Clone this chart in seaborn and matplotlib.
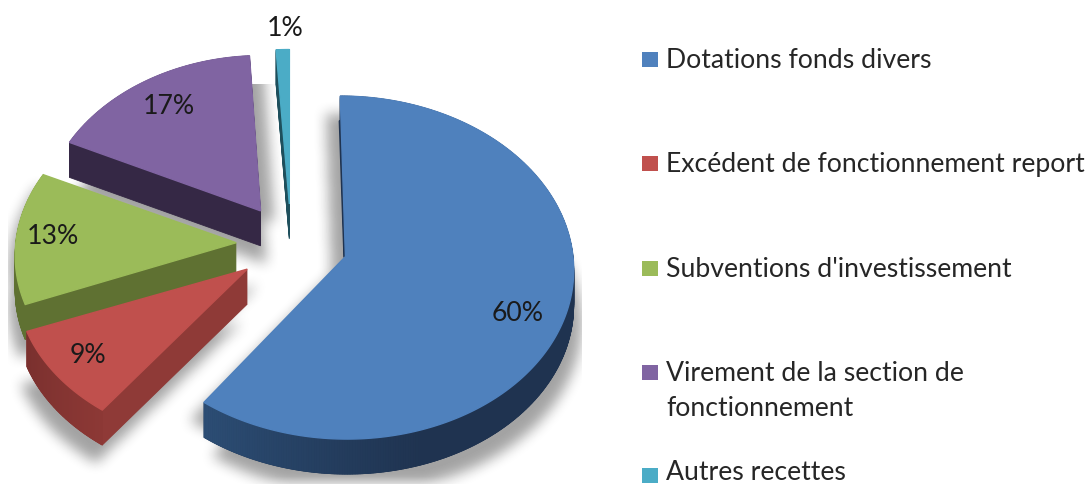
import numpy as np
import matplotlib
matplotlib.use("Agg")
import matplotlib.pyplot as plt
import seaborn as sns
from matplotlib.patches import Polygon, Rectangle
from matplotlib.path import Path
from matplotlib.colors import to_rgb

# ---- data ----
categories = ["Dotations fonds divers", "Excédent de fonctionnement report",
              "Subventions d'investissement", "Virement de la section de\nfonctionnement",
              "Autres recettes"]
values = [60, 9, 13, 17, 1]

# ---- style ----
top_colors = ["#4F81BD", "#C0504D", "#9BBB59", "#8064A2", "#4BACC6"]
side_colors = ["#1F3350", "#8F3A37", "#5F7132", "#352845", "#1E4F5C"]
arc_light_colors = ["#2C4D74", "#8C3835", "#5F7132", "#352845", "#1E4F5C"]
arc_dark_colors = ["#1F3350", "#7A302E", "#5F7132", "#352845", "#1E4F5C"]
rim_scale_x = [1.0, 1.0, 0.965, 0.965, 1.0]
rim_scale_y = [1.0, 0.96, 0.97, 1.0, 1.0]
apex_shift_x = [2, 0, 0, 0, 0]
shadow_near = [(-14, 18), (10, 16), (-6, 12), (14, 12), (0, 0)]
shadow_far_x = [8, -6, -6, 6, 0]
label_xy = [(518, 314), (88, 356), (53, 237), (169, 106), (285, 29)]
legend_y = [60, 164, 269, 373, 476]
legend_text_nudge = [1, 1, 1, 1, -3]
draw_order = [4, 3, 2, 1, 0]

CX, CY, RX, RY, K = 291.0, 245.0, 228.5, 169.2, 0.0636
EXPLODE, DEPTH = 0.24, 35
FONT = "Lato"

sns.set_theme(style="white")
plt.rcParams["font.family"] = [FONT, "DejaVu Sans"]
palette = sns.color_palette(top_colors)

fig = plt.figure(figsize=(10.89, 4.85), dpi=100)
ax = fig.add_axes([0, 0, 1, 1])
ax.set_xlim(0, 1089)
ax.set_ylim(485, 0)


def project(X, Y):
    w = 1 + K * Y
    return CX + RX * X / w, CY - RY * Y / w


# angles clockwise from 12 o'clock, from the values
fractions = np.array(values, dtype=float) / sum(values)
edges = np.concatenate([[0], np.cumsum(fractions)]) * 2 * np.pi

wedges = []
for i in range(len(values)):
    th = np.linspace(edges[i], edges[i + 1], max(6, int(values[i] * 6)))
    mid = (edges[i] + edges[i + 1]) / 2
    ax0, ay0 = EXPLODE * np.sin(mid), EXPLODE * np.cos(mid)
    rx_, ry_ = project(ax0 + rim_scale_x[i] * np.sin(th), ay0 + rim_scale_y[i] * np.cos(th))
    ap = np.array(project(ax0, ay0)) + [apex_shift_x[i], 0]
    wedges.append((ap, np.column_stack([rx_, ry_])))

# soft shadow
yy, xx = np.mgrid[0:485, 0:1089]
grid = np.column_stack([xx.ravel() + .5, yy.ravel() + .5])
mask = np.zeros(xx.shape)
for i, (ap, rim) in enumerate(wedges):
    if values[i] < 2:
        continue
    poly = np.vstack([ap, rim, ap])
    for off in (shadow_near[i], (shadow_far_x[i], DEPTH + 18)):
        inside = Path(poly + np.array(off)).contains_points(grid).reshape(xx.shape).astype(float)
        mask = np.maximum(mask, inside)


def box_blur(a, r):
    kern = np.ones(2 * r + 1) / (2 * r + 1)
    a = np.apply_along_axis(lambda m: np.convolve(m, kern, mode="same"), 0, a)
    return np.apply_along_axis(lambda m: np.convolve(m, kern, mode="same"), 1, a)


blur = box_blur(box_blur(mask, 7), 7)
shade = 1 - 0.36 * blur
shade[:85, :] = 1
shade[:, :8] = 1
shade[:, 582:] = 1
ax.imshow(shade, extent=(0, 1089, 485, 0), cmap="gray", vmin=0, vmax=1,
          interpolation="bilinear", aspect="auto", zorder=0)
ax.set_xlim(0, 1089)
ax.set_ylim(485, 0)
ax.set_xticks([])
ax.set_yticks([])
for s in ax.spines.values():
    s.set_visible(False)

# extruded wedges
z = 1.0
for i in draw_order:
    ap, rim = wedges[i]
    poly = np.vstack([ap, rim])
    for d in range(DEPTH, 0, -1):
        ax.add_patch(Polygon(poly + [0, d], closed=True, fc=side_colors[i], ec=side_colors[i], lw=.6, zorder=z))
        z += .001
    light, dark = np.array(to_rgb(arc_light_colors[i])), np.array(to_rgb(arc_dark_colors[i]))
    n = len(rim) - 1
    for j in range(n):
        # blue: lighter only toward its left end; red: darkens along the rim
        if i == 0:
            t = min((n - 1 - j) / max(n - 1, 1) * 4, 1)
        else:
            t = j / max(n - 1, 1)
        col = light + (dark - light) * t
        q = np.array([rim[j], rim[j + 1], rim[j + 1] + [0, DEPTH], rim[j] + [0, DEPTH]])
        ax.add_patch(Polygon(q, closed=True, fc=col, ec=col, lw=.6, zorder=z))
        z += .001
    if i == 0:  # sliver of the cut face left of the blue wedge
        ax.plot([ap[0] - 1, rim[0, 0] - 0.5], [ap[1], rim[0, 1] + 25], color=side_colors[i], lw=1.6, zorder=z)
        z += .001
    ax.add_patch(Polygon(poly, closed=True, fc=palette[i], ec=palette[i], lw=1.0, zorder=z))
    z += .01

# percentage labels
for v, (lx, ly) in zip(values, label_xy):
    ax.text(lx, ly, f"{v}%", ha="center", va="center", fontsize=19.2, color="#1A1A1A", zorder=50)

# legend
for name, col, y, nudge in zip(categories, palette, legend_y, legend_text_nudge):
    ax.add_patch(Rectangle((642, y - 7.5), 16, 15, fc=col, ec="none", zorder=50))
    for k, line in enumerate(name.split("\n")):
        ax.text(666, y + k * 34.5 + nudge, line, ha="left", va="center", fontsize=19.2,
                color="#262626", zorder=50)

fig.savefig("out.png", dpi=100)
